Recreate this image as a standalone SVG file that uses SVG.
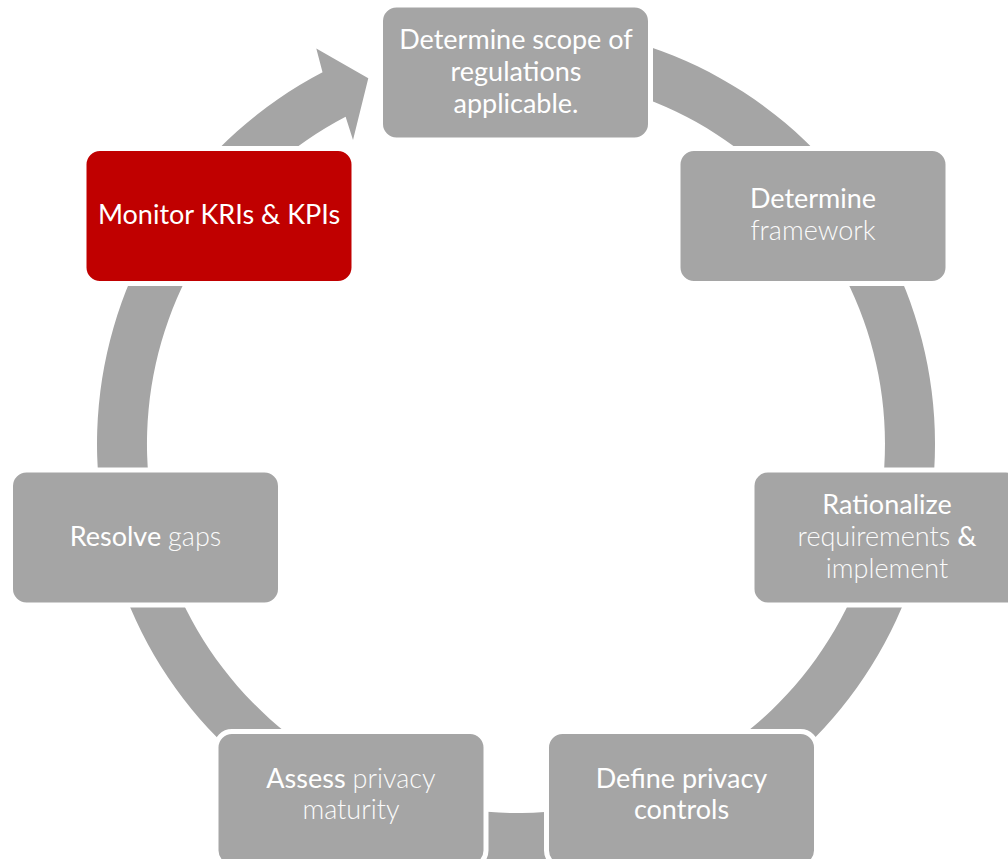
<svg xmlns="http://www.w3.org/2000/svg" width="1008" height="859" viewBox="0 0 1008 859">
  <style>
    .box { fill: #a5a5a5; stroke: #ffffff; stroke-width: 5; }
    .hot { fill: #c00000; stroke: #ffffff; stroke-width: 5; }
    .lbl { font-family: Lato, "Liberation Sans", sans-serif; font-size: 27px; fill: #ffffff; text-anchor: middle; }
    .lt { font-weight: 300; fill: #fbfbfb; }
  </style>
  <rect width="1008" height="859" fill="#ffffff"/>

  <!-- circular cycle arrow behind the step boxes -->
  <g id="connectors">
    <path fill="#a5a5a5" d="M 451.92,80.61 L 443.24,31.36 A 419 419 0 1 1 322.53,72.34 L 316.3,48.6 L 368.3,78.3 L 353,140 L 345.61,116.69 A 369 369 0 1 0 451.92,80.61 Z"/>
  </g>

  <g id="scope">
    <rect class="box" x="380.5" y="5" width="270" height="135" rx="16"/>
    <text class="lbl" x="516" y="49">Determine scope of</text>
    <text class="lbl" x="516" y="81">regulations</text>
    <text class="lbl" x="516" y="113">applicable.</text>
  </g>

  <g id="framework">
    <rect class="box" x="678" y="148.5" width="270" height="135" rx="16"/>
    <text class="lbl" x="813" y="208">Determine</text>
    <text class="lbl lt" x="813" y="240">framework</text>
  </g>

  <g id="rationalize">
    <rect class="box" x="752" y="470" width="270" height="135" rx="16"/>
    <text class="lbl" x="887" y="514">Rationalize</text>
    <text class="lbl" x="887" y="546"><tspan class="lt">requirements</tspan> &amp;</text>
    <text class="lbl lt" x="887" y="578">implement</text>
  </g>

  <g id="define">
    <rect class="box" x="546.5" y="731.5" width="270" height="135" rx="16"/>
    <text class="lbl" x="681.5" y="788">Define privacy</text>
    <text class="lbl" x="681.5" y="819">controls</text>
  </g>

  <g id="assess">
    <rect class="box" x="216" y="731.5" width="270" height="135" rx="16"/>
    <text class="lbl" x="351" y="788">Assess <tspan class="lt">privacy</tspan></text>
    <text class="lbl lt" x="351" y="819">maturity</text>
  </g>

  <g id="resolve">
    <rect class="box" x="10.5" y="470" width="270" height="135" rx="16"/>
    <text class="lbl" x="145.5" y="546">Resolve <tspan class="lt">gaps</tspan></text>
  </g>

  <g id="monitor">
    <rect class="hot" x="84" y="148.5" width="270" height="135" rx="16"/>
    <text class="lbl" x="219" y="224">Monitor KRIs &amp; KPIs</text>
  </g>
</svg>
